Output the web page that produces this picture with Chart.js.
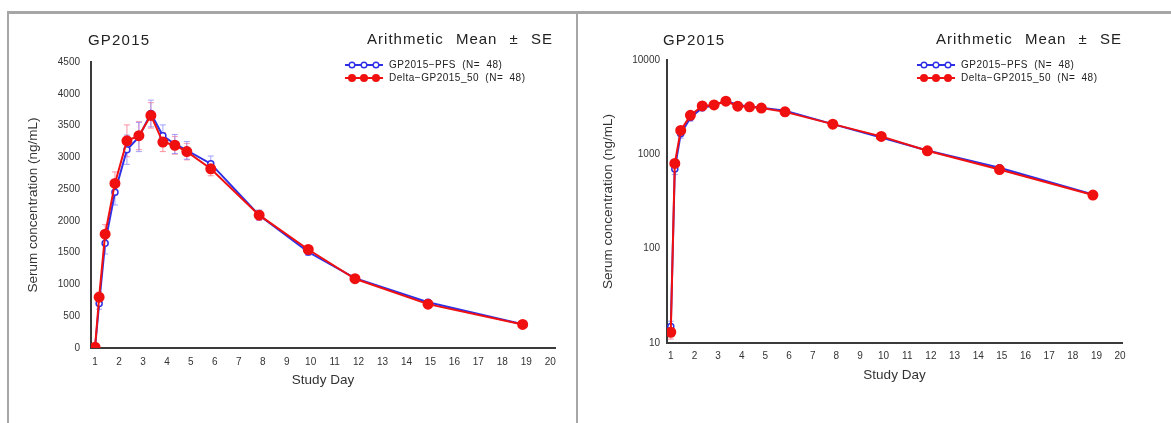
<!DOCTYPE html>
<html>
<head>
<meta charset="utf-8">
<script src="https://cdn.jsdelivr.net/npm/chart.js@4"></script>
<style>
  html, body { margin: 0; padding: 0; background: #fff; }
  body { width: 1171px; height: 423px; position: relative; overflow: hidden;
         font-family: "Liberation Sans", Arial, sans-serif; color: #222; }
  canvas { position: absolute; top: 0; }
  .frame { position: absolute; background: #a6a6a6; }
  .title { position: absolute; font-size: 15px; line-height: 16px; letter-spacing: 1.2px; white-space: nowrap; }
  .mean { position: absolute; font-size: 15px; line-height: 16px; letter-spacing: 1px; word-spacing: 7px; white-space: nowrap; }
  .legend { position: absolute; font-size: 10px; line-height: 12px; letter-spacing: 0.5px; word-spacing: 3px; white-space: nowrap; }
  .legend div { display: flex; align-items: center; height: 13px; }
  .legend svg { margin-right: 6px; }
</style>
</head>
<body>
<canvas id="linChart" width="577" height="423" style="left:0"></canvas>
<canvas id="logChart" width="594" height="423" style="left:577px"></canvas>

<!-- cadre gris -->
<div class="frame" style="left:7px; top:11px; width:1164px; height:3px"></div>
<div class="frame" style="left:7px; top:11px; width:2px; height:412px"></div>
<div class="frame" style="left:576px; top:11px; width:2px; height:412px"></div>

<div class="title" style="left:88px; top:32px">GP2015</div>
<div class="mean" style="right:618px; top:31px">Arithmetic Mean ± SE</div>
<div class="legend" style="left:345px; top:58px">
  <div><svg width="38" height="10" id="swA1"></svg>GP2015−PFS (N= 48)</div>
  <div><svg width="38" height="10" id="swA2"></svg>Delta−GP2015_50 (N= 48)</div>
</div>

<div class="title" style="left:663px; top:32px">GP2015</div>
<div class="mean" style="right:49px; top:31px">Arithmetic Mean ± SE</div>
<div class="legend" style="left:917px; top:58px">
  <div><svg width="38" height="10" id="swB1"></svg>GP2015−PFS (N= 48)</div>
  <div><svg width="38" height="10" id="swB2"></svg>Delta−GP2015_50 (N= 48)</div>
</div>

<script>
// Données
const DAYS = [1, 1.17, 1.42, 1.83, 2.33, 2.83, 3.33, 3.83, 4.33, 4.83, 5.83, 7.85, 9.9, 11.85, 14.9, 18.85];
const PFS_MEAN = [15, 700, 1650, 2450, 3120, 3320, 3690, 3340, 3210, 3110, 2900, 2090, 1510, 1100, 720, 375];
const PFS_SE = [2, 90, 170, 200, 230, 230, 210, 170, 150, 140, 120, 80, 55, 40, 30, 20];
const DELTA_MEAN = [13, 800, 1790, 2590, 3260, 3340, 3660, 3240, 3190, 3090, 2820, 2090, 1550, 1090, 690, 370];
const DELTA_SE = [2, 80, 150, 180, 250, 220, 200, 150, 140, 130, 110, 75, 50, 40, 30, 20];

const DAY_TICKS = [1, 2, 3, 4, 5, 6, 7, 8, 9, 10, 11, 12, 13, 14, 15, 16, 17, 18, 19, 20];
const LIN_TICKS = [0, 500, 1000, 1500, 2000, 2500, 3000, 3500, 4000, 4500];
const LOG_TICKS = [10, 100, 1000, 10000];

const BLUE = '#2f2fe6';
const RED = '#f01010';
const FONT = '"Liberation Sans", Arial, sans-serif';

// Barres d'erreur (moyenne ± SE) dessinées sous les points
const errorBars = {
    id: 'errorBars',
    beforeDatasetsDraw(chart) {
        const ctx = chart.ctx;
        const xs = chart.scales.x;
        const ys = chart.scales.y;
        chart.data.datasets.forEach(ds => {
            ctx.save();
            ctx.strokeStyle = ds.errColor;
            ctx.lineWidth = 1;
            ds.data.forEach((p, i) => {
                const px = xs.getPixelForValue(p.x);
                const lo = Math.max(p.y - ds.se[i], ys.min);
                const yt = ys.getPixelForValue(p.y + ds.se[i]);
                const yb = ys.getPixelForValue(lo);
                ctx.beginPath();
                ctx.moveTo(px, yt); ctx.lineTo(px, yb);
                ctx.moveTo(px - 3, yt); ctx.lineTo(px + 3, yt);
                ctx.moveTo(px - 3, yb); ctx.lineTo(px + 3, yb);
                ctx.stroke();
            });
            ctx.restore();
        });
    }
};

function points(means) {
    return DAYS.map((d, i) => ({ x: d, y: means[i] }));
}

function makeChart(id, isLog, geo) {
    const ctx = document.getElementById(id).getContext('2d');
    return new Chart(ctx, {
        type: 'line',
        data: {
            datasets: [
                {
                    label: 'Delta−GP2015_50 (N= 48)',
                    data: points(DELTA_MEAN),
                    se: DELTA_SE,
                    errColor: 'rgba(255, 110, 130, 0.75)',
                    borderColor: RED,
                    borderWidth: 2,
                    pointRadius: 4.5,
                    pointBackgroundColor: RED,
                    pointBorderColor: RED,
                    tension: 0,
                    order: 1
                },
                {
                    label: 'GP2015−PFS (N= 48)',
                    data: points(PFS_MEAN),
                    se: PFS_SE,
                    errColor: 'rgba(140, 140, 255, 0.8)',
                    borderColor: BLUE,
                    borderWidth: 2,
                    pointRadius: 3,
                    pointBackgroundColor: '#ffffff',
                    pointBorderColor: BLUE,
                    pointBorderWidth: 1.5,
                    tension: 0,
                    order: 2
                }
            ]
        },
        options: {
            responsive: false,
            animation: false,
            layout: { padding: geo.padding },
            plugins: { legend: { display: false }, tooltip: { enabled: false } },
            scales: {
                x: {
                    type: 'linear',
                    min: geo.xMin,
                    max: geo.xMax,
                    afterBuildTicks: axis => { axis.ticks = DAY_TICKS.map(v => ({ value: v })); },
                    afterFit: scale => { scale.height = 40; },
                    grid: { display: false, drawTicks: false },
                    border: { display: true, color: '#3a3a3a', width: 2 },
                    ticks: {
                        padding: geo.xPad,
                        color: '#333',
                        font: { family: FONT, size: 10 },
                        maxRotation: 0,
                        autoSkip: false,
                        callback: v => String(v)
                    },
                    title: {
                        display: true,
                        text: 'Study Day',
                        color: '#333',
                        font: { family: FONT, size: 13.5 },
                        padding: { top: 0, bottom: 0 }
                    }
                },
                y: {
                    type: isLog ? 'logarithmic' : 'linear',
                    min: isLog ? 10 : 0,
                    max: isLog ? 10000 : 4500,
                    afterBuildTicks: axis => { axis.ticks = (isLog ? LOG_TICKS : LIN_TICKS).map(v => ({ value: v })); },
                    afterFit: scale => { scale.width = geo.yWidth; },
                    grid: { display: false, drawTicks: false },
                    border: { display: true, color: '#3a3a3a', width: 2 },
                    ticks: {
                        padding: geo.yPad,
                        color: '#333',
                        font: { family: FONT, size: 10 },
                        autoSkip: false,
                        callback: v => String(v)
                    },
                    title: {
                        display: true,
                        text: 'Serum concentration (ng/mL)',
                        color: '#333',
                        font: { family: FONT, size: 13.5 },
                        padding: { top: 13, bottom: 0 }
                    }
                }
            }
        },
        plugins: [errorBars]
    });
}

// Petites icônes de légende (ligne + 3 marqueurs)
function swatch(id, color, filled) {
    const svg = document.getElementById(id);
    let html = `<line x1="0" y1="5" x2="38" y2="5" stroke="${color}" stroke-width="2"/>`;
    [7, 19, 31].forEach(cx => {
        html += filled
            ? `<circle cx="${cx}" cy="5" r="4" fill="${color}"/>`
            : `<circle cx="${cx}" cy="5" r="2.8" fill="#fff" stroke="${color}" stroke-width="1.4"/>`;
    });
    svg.innerHTML = html;
}
swatch('swA1', BLUE, false);
swatch('swA2', RED, true);
swatch('swB1', BLUE, false);
swatch('swB2', RED, true);

makeChart('linChart', false, {
    padding: { left: 12, right: 22, top: 62, bottom: 35 },
    xMin: 0.83, xMax: 20.2, yWidth: 79, xPad: 8, yPad: 11
});
makeChart('logChart', true, {
    padding: { left: 10, right: 49, top: 60, bottom: 40 },
    xMin: 0.84, xMax: 20.08, yWidth: 80, xPad: 7, yPad: 7
});
</script>
</body>
</html>
